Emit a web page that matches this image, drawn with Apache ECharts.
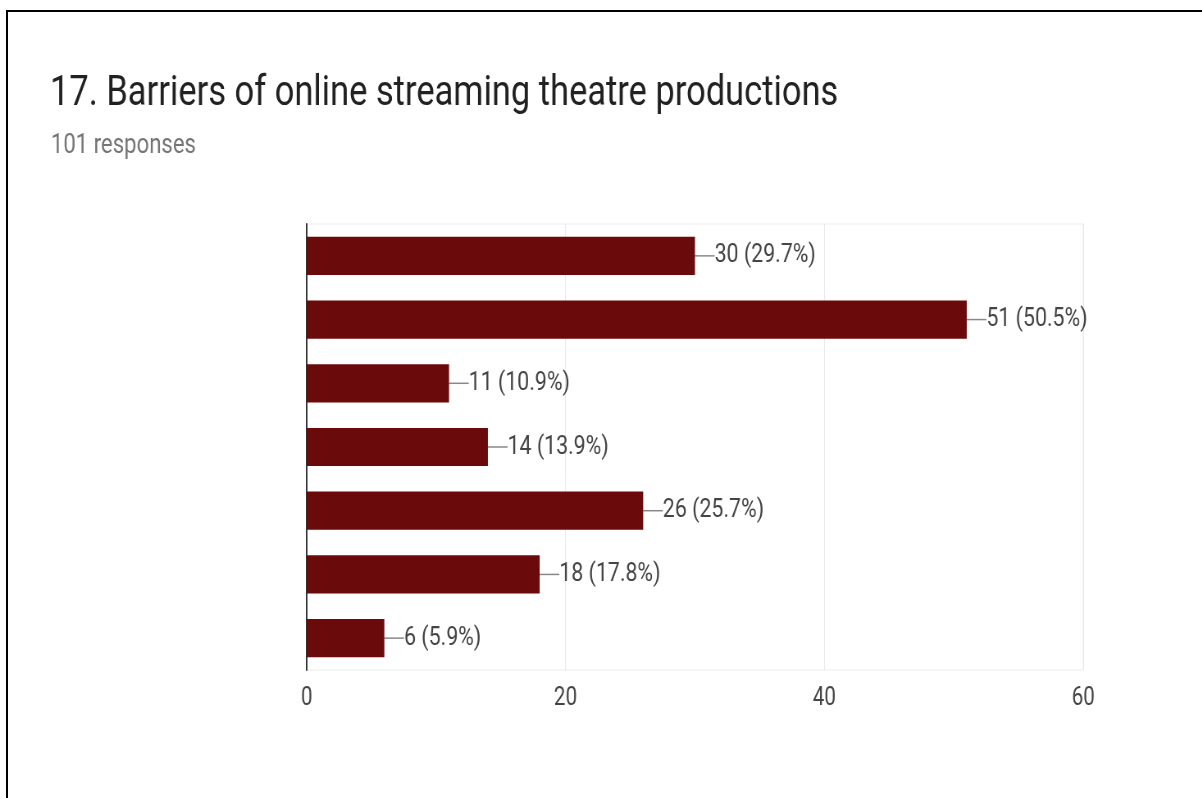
<!DOCTYPE html>
<html>
<head>
<meta charset="utf-8">
<title>Barriers of online streaming theatre productions</title>
<script src="https://cdn.jsdelivr.net/npm/echarts@6/dist/echarts.min.js"></script>
<style>
  html, body { margin: 0; padding: 0; background: #fff; overflow: hidden; }
  #frame {
    position: absolute; left: 6px; top: 10px; width: 1220px; height: 800px;
    border-top: 2px solid #000; border-left: 2px solid #000; box-sizing: border-box;
  }
  /* The form-chart typography is narrow, so the canvas is drawn wide and squeezed horizontally. */
  #chart {
    position: absolute; left: 0; top: 0; width: 1466px; height: 798px;
    transform: scaleX(0.82); transform-origin: 0 0;
  }
</style>
</head>
<body>
<div id="frame"></div>
<div id="chart"></div>
<script>
// Survey question 17: answer options (labels are not shown on the chart)
const categories = ['Option 1', 'Option 2', 'Option 3', 'Option 4', 'Option 5', 'Option 6', 'Option 7'];
// Number of respondents choosing each option
const counts = [30, 51, 11, 14, 26, 18, 6];
// Share of the 101 responses, as printed next to each bar
const percents = ['29.7%', '50.5%', '10.9%', '13.9%', '25.7%', '17.8%', '5.9%'];
const titleText = '17. Barriers of online streaming theatre productions';
const subtitleText = '101 responses';
const axisMax = 60;
const axisStep = 20;

const chart = echarts.init(document.getElementById('chart'), null, { renderer: 'canvas' });

chart.setOption({
  backgroundColor: 'transparent',
  animation: false,
  title: [
    {
      text: titleText,
      left: 56, top: 68,
      textStyle: { fontFamily: 'Roboto', fontSize: 42, fontWeight: 'normal', color: '#212121' }
    },
    {
      text: subtitleText,
      left: 57, top: 128,
      textStyle: { fontFamily: 'Roboto', fontSize: 27, fontWeight: 'normal', color: '#757575' }
    }
  ],
  grid: {
    left: 374, right: 145, top: 224, bottom: 128,
    show: true, borderColor: '#ebebeb', borderWidth: 1
  },
  xAxis: {
    type: 'value',
    min: 0, max: axisMax, interval: axisStep,
    axisLine: { show: false },
    axisTick: { show: false },
    axisLabel: { fontFamily: 'Roboto', fontSize: 25, color: '#444', margin: 16 },
    splitLine: { show: true, lineStyle: { color: '#e8e8e8', width: 1 } }
  },
  yAxis: {
    type: 'category',
    data: categories,
    inverse: true,
    axisLine: { show: true, lineStyle: { color: '#333', width: 2 } },
    axisTick: { show: false },
    axisLabel: { show: false },
    splitLine: { show: false }
  },
  series: [{
    type: 'bar',
    data: counts,
    barCategoryGap: '40%',
    itemStyle: { color: '#6b0a0a' },
    label: {
      show: true,
      position: 'right',
      distance: 0,
      fontFamily: 'Roboto',
      fontSize: 26,
      color: '#444',
      formatter: p => p.value + ' (' + percents[p.dataIndex] + ')'
    },
    labelLayout: { dx: 24 },
    labelLine: { show: true, lineStyle: { color: '#888', width: 1.5 } }
  }]
});
</script>
</body>
</html>
